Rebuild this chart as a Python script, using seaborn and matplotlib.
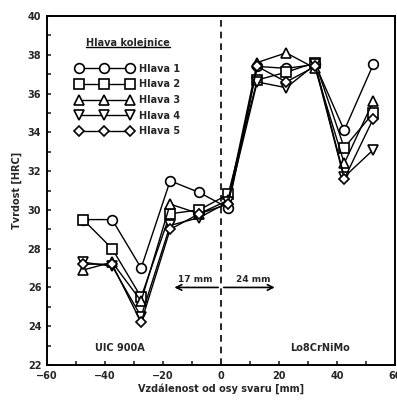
import matplotlib
matplotlib.use("Agg")
import matplotlib.pyplot as plt
import seaborn as sns
import pandas as pd
from matplotlib.lines import Line2D

# ---- data ----
x_mm = [-47.5, -37.5, -27.5, -17.5, -7.5, 2.5, 12.5, 22.5, 32.5, 42.5, 52.5]
hlava1 = [29.5, 29.5, 27.0, 31.5, 30.9, 30.1, 37.4, 37.3, 37.5, 34.1, 37.5]
hlava2 = [29.5, 28.0, 25.5, 29.8, 30.0, 30.8, 36.7, 37.1, 37.6, 33.2, 35.0]
hlava3 = [26.9, 27.3, 25.3, 30.3, 29.8, 30.5, 37.6, 38.1, 37.3, 32.4, 35.6]
hlava4 = [27.3, 27.1, 24.5, 29.2, 29.6, 30.4, 36.6, 36.3, 37.5, 31.7, 33.1]
hlava5 = [27.2, 27.2, 24.2, 29.0, 29.8, 30.3, 37.4, 36.6, 37.4, 31.6, 34.7]
series_names = ["Hlava 1", "Hlava 2", "Hlava 3", "Hlava 4", "Hlava 5"]
series_values = [hlava1, hlava2, hlava3, hlava4, hlava5]
legend_title = "Hlava kolejnice"
x_ticks = [-60, -40, -20, 0, 20, 40, 60]
y_ticks = [22, 24, 26, 28, 30, 32, 34, 36, 38, 40]
xlabel = "Vzdálenost od osy svaru [mm]"
ylabel = "Tvrdost [HRC]"
left_label = "UIC 900A"
right_label = "Lo8CrNiMo"
arrow_left_label = "17 mm"
arrow_right_label = "24 mm"

rows = []
for name, vals in zip(series_names, series_values):
    for xv, yv in zip(x_mm, vals):
        rows.append({"x": xv, "y": yv, "Hlava": name})
df = pd.DataFrame(rows)

sns.set_style("ticks")
plt.rcParams["font.family"] = ["DejaVu Sans"]
plt.rcParams["font.weight"] = "bold"

fig = plt.figure(figsize=(3.97, 4.0), dpi=100)
ax = fig.add_axes([0.118, 0.0875, 0.877, 0.8725])

markers = ["o", "s", "^", "v", "D"]
msizes = [7, 7.5, 7, 7, 5.5]
for name, m, ms in zip(series_names, markers, msizes):
    sub = df[df["Hlava"] == name]
    sns.lineplot(data=sub, x="x", y="y", ax=ax, color="black", lw=1.0,
                 marker=m, markersize=ms, markerfacecolor="white",
                 markeredgecolor="black", markeredgewidth=1.2,
                 label=name, legend=False, estimator=None, sort=False)

ax.axvline(0, color="black", ls=(0, (4, 3)), lw=1.2, zorder=0)

ax.set_xlim(-60, 60)
ax.set_ylim(22, 40)
ax.set_xticks(x_ticks)
ax.set_yticks(y_ticks)
ax.set_xticks(range(-50, 60, 20), minor=True)
ax.set_yticks(range(23, 40, 2), minor=True)
ax.tick_params(which="both", direction="in", length=3, width=1.2, labelsize=7)
ax.tick_params(which="major", pad=4)
for lbl in ax.get_xticklabels() + ax.get_yticklabels():
    lbl.set_fontweight("bold")
for s in ax.spines.values():
    s.set_linewidth(1.4)
    s.set_color("black")
ax.set_xlabel(xlabel, fontsize=7, fontweight="bold", labelpad=2)
ax.set_ylabel(ylabel, fontsize=7, fontweight="bold", labelpad=4)

# annotations
ax.text(-35, 22.9, left_label, ha="center", va="center", fontsize=7, fontweight="bold")
ax.text(34, 22.9, right_label, ha="center", va="center", fontsize=7, fontweight="bold")
ax.annotate("", xy=(-17, 26.0), xytext=(0, 26.0),
            arrowprops=dict(arrowstyle="->", color="black", lw=1.2))
ax.annotate("", xy=(19.5, 26.0), xytext=(0, 26.0),
            arrowprops=dict(arrowstyle="->", color="black", lw=1.2))
ax.text(-9, 26.2, arrow_left_label, ha="center", va="bottom", fontsize=6.5, fontweight="bold")
ax.text(11, 26.2, arrow_right_label, ha="center", va="bottom", fontsize=6.5, fontweight="bold")

# legend title (underlined) as separate text
title = ax.text(-32, 38.6, legend_title, ha="center", va="center",
                fontsize=7, fontweight="bold")

handles = [Line2D([], [], color="black", lw=1.0, marker=m, markersize=ms,
                  markerfacecolor="white", markeredgecolor="black", markeredgewidth=1.2)
           for m, ms in zip(markers, msizes)]
leg = ax.legend(handles, series_names, numpoints=3, loc="upper left",
                bbox_to_anchor=(0.063, 0.883), frameon=False, fontsize=7,
                handlelength=5.9, handletextpad=0.6,
                labelspacing=0.58, borderpad=0.2)
for t in leg.get_texts():
    t.set_fontweight("bold")

fig.canvas.draw()
r = fig.canvas.get_renderer()
bb = title.get_window_extent(r)
inv = fig.transFigure.inverted()
(x0, y0), (x1, y1) = inv.transform([[bb.x0, bb.y0], [bb.x1, bb.y1]])
fig.add_artist(Line2D([x0, x1], [y0 + 0.002, y0 + 0.002], color="black", lw=1.0,
                      transform=fig.transFigure))

fig.savefig("out.png", dpi=100)
